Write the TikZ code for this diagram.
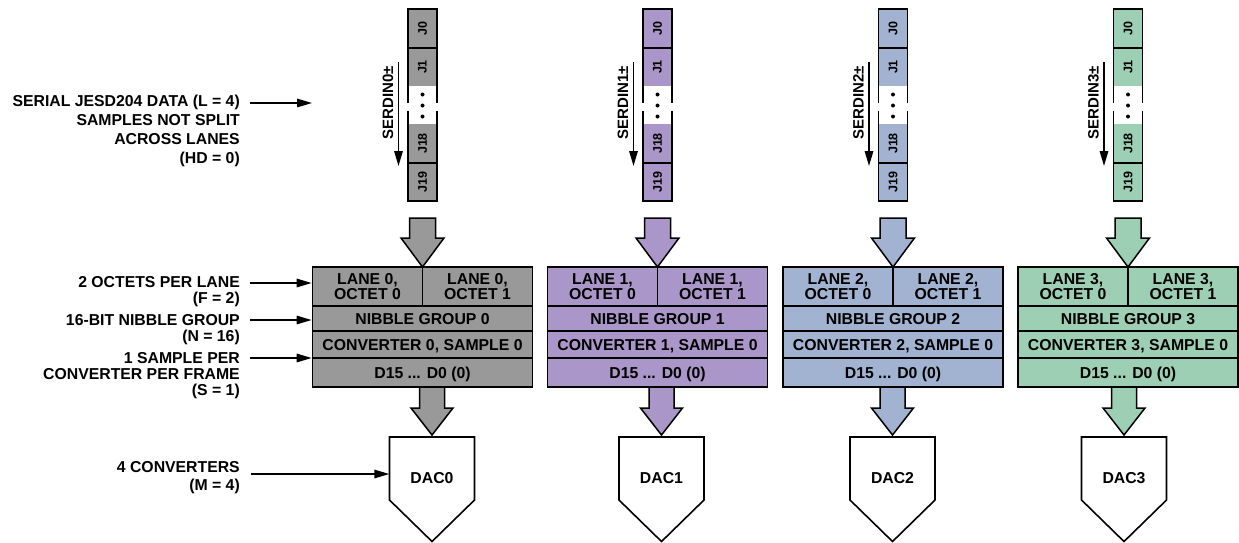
\documentclass[tikz,border=0pt]{standalone}
\usepackage{fontspec}
\setmainfont{Liberation Sans}
\usetikzlibrary{arrows.meta}
\definecolor{cgray}{RGB}{153,153,153}
\definecolor{cpurp}{RGB}{171,150,201}
\definecolor{cblue}{RGB}{161,179,208}
\definecolor{cgreen}{RGB}{156,207,180}
\begin{document}
\begin{tikzpicture}[x=1pt,y=-1pt,
  lbl/.style={font=\bfseries\fontsize{15.8}{16}\selectfont, align=right, anchor=north east, inner sep=0pt},
  ptr/.style={-{Triangle[length=15pt,width=8.5pt]}, line width=1.5pt},
  rowbox/.style={draw, line width=1.7pt, inner sep=0pt, font=\bfseries\fontsize{15.8}{16}\selectfont, text height=11.3pt, text depth=0pt},
  octbox/.style={draw, line width=1.7pt, inner sep=0pt, align=center, font=\bfseries\fontsize{15.8}{13}\selectfont, minimum width=110, minimum height=39},
  jlab/.style={font=\bfseries\fontsize{12.5}{13}\selectfont, inner sep=0pt, rotate=90},
  serd/.style={font=\bfseries\fontsize{15}{16}\selectfont, inner sep=0pt, rotate=90},
  fat/.style={draw, line width=1.5pt, line join=miter},
  strip/.style={line width=1.6pt},
  daclab/.style={font=\bfseries\fontsize{15.8}{16}\selectfont, inner sep=0pt, minimum width=85}
]
\useasboundingbox (0,0) rectangle (1239,542);

\foreach \i/\c/\d/\col in {0/422.5/432/cgray,1/657.5/661.5/cpurp,2/893/892.5/cblue,3/1128/1124/cgreen}{
  % lane strip
  \fill[\col] (\c-14.5,9) rectangle (\c+14.5,86);
  \fill[\col] (\c-14.5,124) rectangle (\c+14.5,201);
  \draw[strip] (\c-14.5,103) -- (\c-14.5,9) -- (\c+14.5,9) -- (\c+14.5,103);
  \draw[strip] (\c-14.5,111) -- (\c-14.5,201) -- (\c+14.5,201) -- (\c+14.5,111);
  \draw[strip] (\c-14.5,48) -- (\c+14.5,48);
  \draw[strip] (\c-14.5,163) -- (\c+14.5,163);
  \node[jlab] (ja\i) at (\c,28.5) {J0};
  \node[jlab] (jb\i) at (\c,67) {J1};
  \node[jlab] (jc\i) at (\c,143.5) {J18};
  \node[jlab] (jd\i) at (\c,182) {J19};
  \fill (\c,94.5) circle (2);
  \fill (\c,105.5) circle (2);
  \fill (\c,116.5) circle (2);
  % serdin label and arrow
  \node[serd] (sd\i) at (\c-34.5,103) {SERDIN\i±};
  \coordinate (sa\i) at (\c-24,62);
  \coordinate (sb\i) at (\c-24,166);
  \draw[ptr] (sa\i) -- (sb\i);
  % fat arrows
  \draw[fat, fill=\col] (\c-13,218) -- (\c+13,218) -- (\c+13,238) -- (\c+21.5,238) -- (\c,267) -- (\c-21.5,238) -- (\c-13,238) -- cycle;
  \draw[fat, fill=\col] (\d-12.5,387) -- (\d+12.5,387) -- (\d+12.5,408) -- (\d+21,408) -- (\d,435) -- (\d-21,408) -- (\d-12.5,408) -- cycle;
  % block
  \node[octbox, fill=\col] (oa\i) at (\c-55,286.5) {LANE \i,\\OCTET 0};
  \node[octbox, fill=\col] (ob\i) at (\c+55,286.5) {LANE \i,\\OCTET 1};
  \node[rowbox, fill=\col, minimum width=220, minimum height=25] (ng\i) at (\c,318.5) {NIBBLE GROUP \i};
  \node[rowbox, fill=\col, minimum width=220, minimum height=27] (cv\i) at (\c,344.5) {CONVERTER \i, SAMPLE 0};
  \node[rowbox, fill=\col, minimum width=220, minimum height=29] (dd\i) at (\c,372.5) {D15 ... D0 (0)};
  % DAC
  \draw[line width=1.6pt, fill=white, line join=miter] (\d-42.5,437) -- (\d+42.5,437) -- (\d+42.5,500) -- (\d,541.5) -- (\d-42.5,500) -- cycle;
  \node[daclab] (dac\i) at (\d,478) {DAC\i};
}

% left labels
\node[lbl, font=\bfseries\fontsize{15.8}{19}\selectfont] (la) at (240,95) {SERIAL JESD204 DATA (L = 4)\\SAMPLES NOT SPLIT\\ACROSS LANES\\(HD = 0)};
\node[lbl] (lb) at (240,276.3) {2 OCTETS PER LANE\\(F = 2)};
\node[lbl] (lc) at (240,314.3) {16-BIT NIBBLE GROUP\\(N = 16)};
\node[lbl] (ld) at (240,352.3) {1 SAMPLE PER\\CONVERTER PER FRAME\\(S = 1)};
\node[lbl, font=\bfseries\fontsize{15.8}{18}\selectfont] (le) at (240,461.3) {4 CONVERTERS\\(M = 4)};

\coordinate (pA) at (250,103);
\coordinate (tA) at (312,103);
\draw[ptr] (pA) -- (tA);
\coordinate (pB) at (250,283);
\draw[ptr] (pB) -- (pB -| oa0.west);
\coordinate (pC) at (250,320);
\draw[ptr] (pC) -- (pC -| ng0.west);
\coordinate (pD) at (250,358);
\draw[ptr] (pD) -- (pD -| cv0.west);
\coordinate (pE) at (251,474);
\draw[ptr] (pE) -- (pE -| dac0.west);
\end{tikzpicture}
\end{document}
